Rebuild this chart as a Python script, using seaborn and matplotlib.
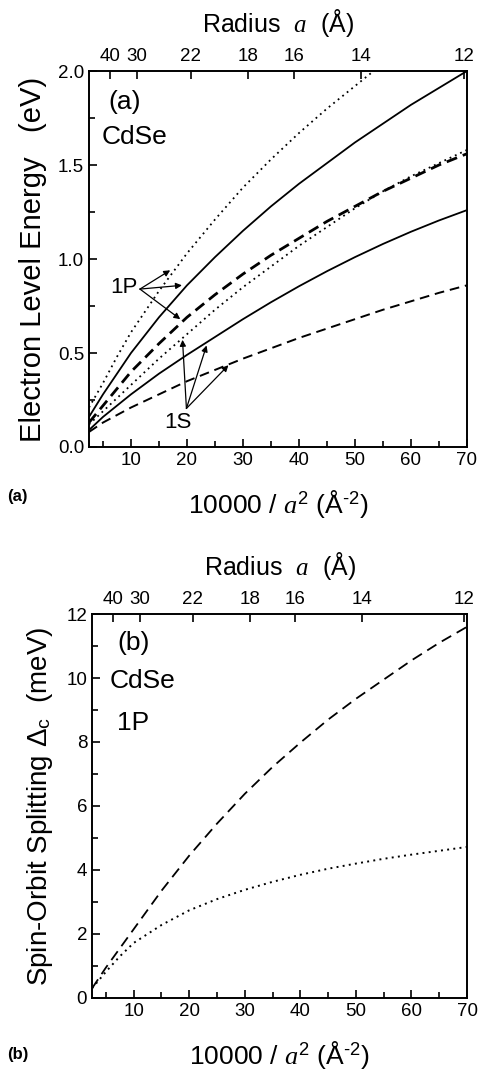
"""
Electron level energies and spin-orbit splitting vs. 10000/a^2 for CdSe dots
"""

import numpy as np
import pandas as pd
import matplotlib
matplotlib.use("Agg")
import matplotlib.pyplot as plt
import seaborn as sns

# x values: 10000 / a^2 (A^-2)
inv_a2 = [2.5, 5, 7.5, 10, 15, 20, 25, 30, 35, 40, 45, 50, 55, 60, 65, 70]
inv_a2_short = [2.5, 5, 7.5, 10, 15, 20, 25, 30, 35, 40, 45, 50, 55]

# panel (a): electron level energies (eV)
p_dotted_top = [0.21, 0.34, 0.48, 0.61, 0.83, 1.03, 1.21, 1.38, 1.53, 1.67, 1.80, 1.92, 2.04]
p_solid = [0.16, 0.28, 0.39, 0.50, 0.69, 0.86, 1.01, 1.15, 1.28, 1.40, 1.51, 1.62, 1.72, 1.82, 1.91, 2.0]
p_dashed = [0.13, 0.22, 0.31, 0.40, 0.55, 0.69, 0.81, 0.92, 1.02, 1.11, 1.20, 1.28, 1.36, 1.43, 1.50, 1.56]
p_dotted_mid = [0.12, 0.19, 0.26, 0.33, 0.47, 0.60, 0.73, 0.85, 0.96, 1.07, 1.17, 1.27, 1.36, 1.44, 1.51, 1.58]
s_solid = [0.09, 0.16, 0.22, 0.28, 0.39, 0.49, 0.585, 0.68, 0.77, 0.855, 0.935, 1.01, 1.08, 1.145, 1.205, 1.26]
s_dashed = [0.08, 0.13, 0.17, 0.21, 0.28, 0.35, 0.41, 0.47, 0.525, 0.58, 0.63, 0.68, 0.73, 0.775, 0.82, 0.86]

# panel (b): spin-orbit splitting of 1P (meV)
so_dashed = [0.3, 0.95, 1.55, 2.15, 3.35, 4.45, 5.45, 6.38, 7.22, 7.98, 8.7, 9.35, 9.95, 10.55, 11.1, 11.6]
so_dotted = [0.3, 0.82, 1.3, 1.72, 2.28, 2.74, 3.09, 3.38, 3.63, 3.85, 4.04, 4.2, 4.35, 4.48, 4.6, 4.72]

# top axis: radius a (A)
radius_ticks = [40, 30, 22, 18, 16, 14, 12]

sns.set_theme(style="ticks")
plt.rcParams["font.family"] = ["Liberation Sans", "DejaVu Sans"]
plt.rcParams["mathtext.fontset"] = "custom"
plt.rcParams["mathtext.rm"] = "Liberation Sans"
plt.rcParams["mathtext.it"] = "Liberation Serif:italic"
plt.rcParams["mathtext.bf"] = "Liberation Sans:bold"
plt.rcParams["axes.unicode_minus"] = False
for key in ["text.color", "axes.labelcolor", "xtick.color", "ytick.color", "axes.edgecolor"]:
    plt.rcParams[key] = "black"
plt.rcParams["axes.linewidth"] = 1.4

DOT = (0, (1, 2.2))
XLABEL = "10000 / $a^2$ (Å$^{\\text{-}2}$)"
TOPLABEL = "Radius  $a$  (Å)"


def style_axes(ax, ymax, ymajor, yminor, yfmt):
    ax.set_xlim(2.5, 70)
    ax.set_ylim(0, ymax)
    ax.set_xticks(np.arange(10, 71, 10))
    ax.set_xticks(np.arange(5, 71, 5), minor=True)
    ax.set_yticks(np.arange(0, ymax + 0.001, ymajor))
    ax.set_yticks(np.arange(0, ymax + 0.001, yminor), minor=True)
    ax.set_yticklabels([yfmt.format(v) for v in np.arange(0, ymax + 0.001, ymajor)])
    ax.tick_params(which="both", direction="in", top=False, right=False,
                   labelsize=13.5, width=1.2)
    ax.tick_params(which="major", length=6)
    ax.tick_params(which="minor", length=4)
    ax.set_xlabel(XLABEL, fontsize=19, labelpad=14)

    top = ax.twiny()
    top.set_xlim(ax.get_xlim())
    top.set_xticks([10000 / r ** 2 for r in radius_ticks])
    top.set_xticklabels([str(r) for r in radius_ticks])
    top.tick_params(direction="in", length=6, width=1.2, labelsize=13.5, pad=4)
    top.set_xlabel(TOPLABEL, fontsize=18, labelpad=12)
    for s in top.spines.values():
        s.set_visible(False)


fig = plt.figure(figsize=(4.79, 10.81), dpi=100)

# ---- panel (a)
ax1 = fig.add_axes([0.1858, 0.5865, 0.789, 0.3478])
lines_a = [
    (inv_a2_short, p_dotted_top, DOT, 1.3),
    (inv_a2, p_solid, "-", 1.3),
    (inv_a2, p_dashed, (0, (4, 2.2)), 2.0),
    (inv_a2, p_dotted_mid, DOT, 1.3),
    (inv_a2, s_solid, "-", 1.3),
    (inv_a2, s_dashed, (0, (5, 3)), 1.4),
]
for xs, ys, ls, lw in lines_a:
    df = pd.DataFrame({"x": xs, "y": ys})
    sns.lineplot(data=df, x="x", y="y", ax=ax1, color="black",
                 linestyle=ls, linewidth=lw)
style_axes(ax1, 2.0, 0.5, 0.25, "{:.1f}")
ax1.set_ylabel("Electron Level Energy   (eV)", fontsize=21, labelpad=8)

ax1.text(6.0, 1.9, "(a)", fontsize=19, va="top")
ax1.text(4.8, 1.65, "CdSe", fontsize=19, va="center")
ax1.text(8.8, 0.85, "1P", fontsize=16, ha="center", va="center")
ax1.text(18.3, 0.13, "1S", fontsize=16, ha="center", va="center")

arrow = dict(arrowstyle="-|>", color="black", lw=0.9, mutation_scale=9,
             shrinkA=0, shrinkB=0)
for tip in [(17.0, 0.94), (19.1, 0.86), (18.8, 0.68)]:
    ax1.annotate("", xy=tip, xytext=(11.6, 0.84), arrowprops=arrow)
for tip in [(19.2, 0.57), (23.5, 0.54), (27.4, 0.435)]:
    ax1.annotate("", xy=tip, xytext=(19.9, 0.205), arrowprops=arrow)

fig.text(0.015, 1 - 496 / 1081, "(a)", fontsize=12, fontweight="bold", va="center")

# ---- panel (b)
ax2 = fig.add_axes([0.1921, 0.0768, 0.7829, 0.3552])
for ys, ls, lw in [(so_dashed, (0, (6, 3.5)), 1.3), (so_dotted, DOT, 1.4)]:
    df = pd.DataFrame({"x": inv_a2, "y": ys})
    sns.lineplot(data=df, x="x", y="y", ax=ax2, color="black",
                 linestyle=ls, linewidth=lw)
style_axes(ax2, 12, 2, 1, "{:.0f}")
ax2.set_ylabel("Spin-Orbit Splitting Δ$_\\mathrm{c}$  (meV)", fontsize=20, labelpad=8)

ax2.text(7.0, 11.1, "(b)", fontsize=19, va="center")
ax2.text(5.6, 9.9, "CdSe", fontsize=19, va="center")
ax2.text(7.0, 8.6, "1P", fontsize=19, va="center")

fig.text(0.015, 1 - 1055 / 1081, "(b)", fontsize=12, fontweight="bold", va="center")

fig.savefig("out.png", dpi=100)
